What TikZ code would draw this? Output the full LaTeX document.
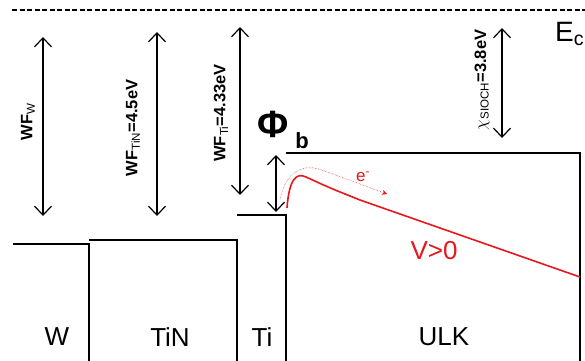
\documentclass[tikz,border=0pt]{standalone}
\usepackage{fontspec}
\setmainfont{Liberation Sans}
\usetikzlibrary{arrows.meta}
\definecolor{bandred}{HTML}{E8171B}

\begin{document}
\begin{tikzpicture}[
    x=1pt, y=-1pt,
    level/.style={line width=1.3pt, draw=black},
    gap/.style={{Straight Barb[length=9pt,width=17pt]}-{Straight Barb[length=9pt,width=17pt]}, line width=1.2pt},
    wflabel/.style={rotate=90, font=\fontsize{16.5}{18}\selectfont\bfseries, inner sep=0pt},
    layer/.style={font=\fontsize{26}{28}\selectfont, inner sep=0pt}
  ]
    \useasboundingbox (0,0) rectangle (585,360);
    \clip (0,0) rectangle (585,360);
    % vacuum level
    \draw[line width=1.3pt, dash pattern=on 5pt off 2.5pt] (12,10) -- (590,10);
    % band edges of the stack
    \draw[level] (13,244) -- (89,244) -- (89,370);
    \draw[level] (89,240) -- (237,240) -- (237,370);
    \draw[level] (237,215) -- (286,215) -- (286,370);
    \draw[level] (286,153) -- (580,153) -- (580,370);
    % work functions and affinity
    \coordinate (wtop) at (43,37);   \coordinate (wbot) at (43,216);
    \coordinate (tintop) at (157,32); \coordinate (tinbot) at (157,216);
    \coordinate (titop) at (240,27); \coordinate (tibot) at (240,195);
    \coordinate (phitop) at (276,155); \coordinate (phibot) at (276,212);
    \coordinate (chitop) at (502,28); \coordinate (chibot) at (502,138);
    \draw[gap] (wtop) -- (wbot);
    \draw[gap] (tintop) -- (tinbot);
    \draw[gap] (titop) -- (tibot);
    \draw[gap] (phitop) -- (phibot);
    \draw[gap] (chitop) -- (chibot);
    \node[wflabel] (wfw) at (28,122) {WF\textsubscript{\mdseries W}};
    \node[wflabel] (wftin) at (133,128) {WF\textsubscript{\mdseries TiN}=4.5eV};
    \node[wflabel] (wfti) at (221,113) {WF\textsubscript{\mdseries Ti}=4.33eV};
    \node[wflabel] (chi) at (482,80) {$\chi$\textsubscript{\mdseries SIOCH}=3.8eV};
    \node[font=\fontsize{38}{40}\selectfont\bfseries, inner sep=0pt] (phi) at (273,124) {Φ};
    \node[font=\fontsize{22}{24}\selectfont\bfseries, inner sep=0pt] (phib) at (302,141) {b};
    \node[font=\fontsize{28}{30}\selectfont, inner sep=0pt, anchor=west] (ec) at (555,34) {E\textsubscript{c}};
    % conduction band under bias
    \draw[bandred, line width=1.6pt] (287,208) .. controls (289,180) and (296,172) .. (306,177)
      .. controls (330,188) .. (360,200) -- (580,277);
    \draw[bandred, line width=0.5pt, densely dotted, -{Stealth[length=5pt,width=5pt]}]
      (280,199) .. controls (286,172) and (302,163) .. (322,170) -- (387,194);
    \node[text=bandred, font=\fontsize{17}{20}\selectfont, inner sep=0pt] (elec) at (363,177) {e\textsuperscript{-}};
    \node[text=bandred, layer] (bias) at (434,251) {V>0};
    % layer names
    \node[layer] (lw) at (57,337) {W};
    \node[layer] (ltin) at (170,337) {TiN};
    \node[layer] (lti) at (262,337) {Ti};
    \node[layer] (lulk) at (444,337) {ULK};
  \end{tikzpicture}
\end{document}
